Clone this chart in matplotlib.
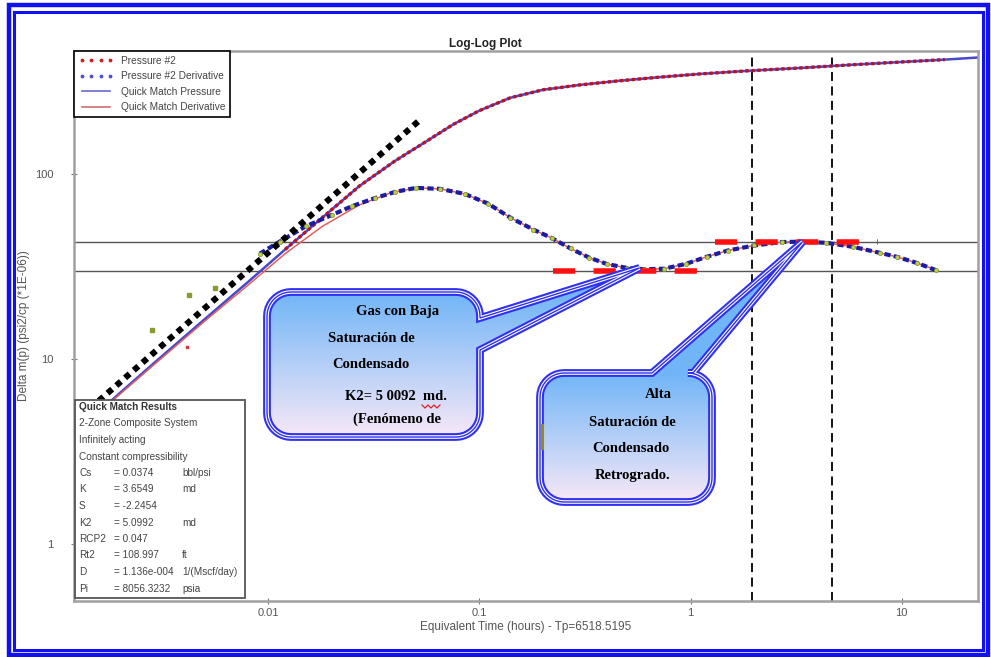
import numpy as np
import matplotlib.pyplot as plt
from matplotlib.lines import Line2D
from matplotlib.patches import Polygon, Rectangle
import matplotlib.patheffects as pe

plt.rcParams['font.family'] = ['Liberation Sans', 'DejaVu Sans']

# ---- data ----
pres_t = [0.0012, 0.002, 0.003, 0.005, 0.008, 0.012, 0.018, 0.027, 0.04, 0.055,
          0.075, 0.1, 0.14, 0.2, 0.3, 0.45, 0.7, 1.1, 1.8, 3.3, 6.0, 10, 16, 23]
pres_v = [3.9, 6.6, 9.9, 16.4, 26, 39, 58, 86, 118, 148,
          185, 220, 258, 285, 303, 318, 333, 347, 360, 374, 390, 403, 415, 426]

der_t = [0.0012, 0.002, 0.003, 0.005, 0.008, 0.012, 0.018, 0.027, 0.038, 0.05,
         0.065, 0.085, 0.11, 0.14, 0.18, 0.22, 0.27, 0.33, 0.4, 0.5, 0.6, 0.75,
         0.95, 1.2, 1.5, 2.0, 2.7, 3.4, 4.4, 5.9, 7.9, 9.5, 11.8, 14.8]
der_v = [3.9, 6.5, 9.7, 16, 25, 37, 52, 68, 79, 84,
         83, 78, 69, 58, 50, 45, 39.5, 35.3, 32.6, 31.0, 30.5, 30.7,
         32.6, 35.7, 38.5, 41.0, 42.8, 43.0, 42.4, 40.3, 37.4, 35.6, 33.0, 30.0]

dder_t = [0.0091, 0.0113, 0.015, 0.02, 0.025, 0.032, 0.04, 0.05,
          0.065, 0.085, 0.11, 0.14, 0.18, 0.22, 0.27, 0.33, 0.4, 0.5, 0.6, 0.75,
          0.95, 1.2, 1.5, 2.0, 2.7, 3.4, 4.4, 5.9, 7.9, 9.5, 11.8, 14.5]
dder_v = [37, 43, 52, 60, 67, 74, 80, 84,
          83, 78, 69, 58, 50, 45, 39.5, 35.3, 32.6, 31.0, 30.5, 30.7,
          32.6, 35.7, 38.5, 41.0, 42.8, 43.0, 42.4, 40.3, 37.4, 35.6, 33.0, 30.2]

early_der_t = [0.0028, 0.0042, 0.0056]
early_der_v = [14.3, 22.2, 24.2]
early_pres_t = [0.0041]
early_pres_v = [11.6]

unit_t = [0.0013, 0.052]        # unit-slope line (storage)
unit_v = [4.9, 195]
low_t = [0.222, 1.31]           # red dashed level, low
low_v = [30, 30]
high_t = [1.30, 7.7]            # red dashed level, high
high_v = [43, 43]
levels = [43, 30]
vlines = [1.95, 4.7]

results = [("Cs", "= 0.0374", "bbl/psi"), ("K", "= 3.6549", "md"),
           ("S", "= -2.2454", ""), ("K2", "= 5.0992", "md"),
           ("RCP2", "= 0.047", ""), ("Rt2", "= 108.997", "ft"),
           ("D", "= 1.136e-004", "1/(Mscf/day)"), ("Pi", "= 8056.3232", "psia")]

W, H = 991, 657
fig = plt.figure(figsize=(W / 100, H / 100), dpi=100)
ax = fig.add_axes([74 / W, 1 - 601 / H, (978 - 74) / W, (601 - 51) / H])
ax.set_xscale('log')
ax.set_yscale('log')

for lv in levels:
    ax.axhline(lv, color='#555555', lw=1, zorder=1)
for vl in vlines:
    ax.axvline(vl, color='black', lw=1.3, ls=(0, (5, 3)), zorder=1)

ax.plot(pres_t, pres_v, color='#4848c8', lw=1.8, zorder=2)
ax.plot(pres_t[5:-1], pres_v[5:-1], color='#c01020', lw=2.4, ls=(0, (1, 0.8)), zorder=3)
ax.plot(der_t, der_v, color='#e06060', lw=1.1, zorder=2)
ax.plot(dder_t, dder_v, color='#1c1ca0', lw=3, ls=(0, (1.5, 0.8)), zorder=3)
ax.plot(dder_t, dder_v, ls='none', marker='o', ms=3, color='#c0d040',
        mec='#78902a', mew=0.5, zorder=4)
ax.plot(early_der_t, early_der_v, ls='none', marker='s', ms=3.5, color='#8a9a30', zorder=4)
ax.plot(early_pres_t, early_pres_v, ls='none', marker='s', ms=2, color='#e03030', zorder=4)

ax.plot(unit_t, unit_v, color='black', lw=4.4, ls=(0, (1, 0.9)), zorder=4)
ax.plot(low_t, low_v, color='#ff1010', lw=4, ls=(0, (4, 3.3)), zorder=4)
ax.plot(high_t, high_v, color='#ff1010', lw=4, ls=(0, (4, 3.3)), zorder=4)

ax.set_xlim(0.0012, 23)
ax.set_ylim(0.49, 462)
ax.set_xticks([0.01, 0.1, 1, 10], labels=['0.01', '0.1', '1', '10'])
ax.set_yticks([1, 10, 100], labels=['1', '10', '100'])
ax.minorticks_off()
ax.tick_params(axis='both', colors='#777777', labelcolor='#555555', labelsize=8,
               length=4, direction='inout')
ax.tick_params(axis='y', pad=13)
ax.tick_params(axis='x', pad=3)
for sp in ax.spines.values():
    sp.set_color('#a0a0a0')
    sp.set_linewidth(1.8)

ax.set_xlabel('Equivalent Time (hours) - Tp=6518.5195', fontsize=8.5,
              color='#555555', labelpad=2)
ax.set_ylabel('Delta m(p) (psi2/cp (*1E-06))', fontsize=8.5, color='#555555', labelpad=3)
ax.set_title('Log-Log Plot', fontsize=8.5, fontweight='bold', pad=3, color='#222222', x=0.455)

handles = [Line2D([], [], ls='none', marker='.', ms=3.5, color='#d02020'),
           Line2D([], [], ls='none', marker='.', ms=3.5, color='#5050d0'),
           Line2D([], [], color='#6a6ad0', lw=1.2),
           Line2D([], [], color='#d07070', lw=1.2)]
leg = ax.legend(handles, ['Pressure #2', 'Pressure #2 Derivative',
                          'Quick Match Pressure', 'Quick Match Derivative'],
                loc='upper left', bbox_to_anchor=(0, 1), borderaxespad=0,
                fontsize=7.3, numpoints=4, handlelength=3.4, labelspacing=0.55,
                handletextpad=0.8, borderpad=0.45, fancybox=False, framealpha=1,
                edgecolor='black')
leg.get_frame().set_linewidth(1.2)
for t in leg.get_texts():
    t.set_color('#444444')
leg.set_zorder(10)

# ---- overlay in image pixel coordinates ----
ov = fig.add_axes([0, 0, 1, 1], zorder=5)
ov.patch.set_alpha(0)


def to_px(t, v):
    return ov.transData.inverted().transform(ax.transData.transform((t, v)))


ov.set_xlim(0, W)
ov.set_ylim(H, 0)
ov.axis('off')


def bubble(x0, y0, x1, y1, r, edge, a, b, tip):
    def arc(cx, cy, a0, a1):
        ang = np.radians(np.linspace(a0, a1, 10))
        return [(cx + r * np.cos(q), cy + r * np.sin(q)) for q in ang]
    pts = [(x0 + r, y0)]
    if edge == 'top':
        pts += [(a, y0), tuple(tip), (b, y0)]
    pts += arc(x1 - r, y0 + r, -90, 0)
    if edge == 'right':
        pts += [(x1, a), tuple(tip), (x1, b)]
    pts += arc(x1 - r, y1 - r, 0, 90)
    pts += arc(x0 + r, y1 - r, 90, 180)
    pts += arc(x0 + r, y0 + r, 180, 270)
    return pts


top_c = np.array([0.44, 0.71, 0.97])
bot_c = np.array([0.97, 0.91, 0.97])


def draw_bubble(x0, y0, x1, y1, edge, a, b, tip, lines):
    pts = bubble(x0, y0, x1, y1, 24, edge, a, b, tip)
    poly = Polygon(pts, closed=True, fc='none', ec='#3030f0', lw=1.0, zorder=3)
    poly.set_path_effects([pe.Stroke(linewidth=5.6, foreground='#3030f0'),
                           pe.Stroke(linewidth=2.6, foreground='white'),
                           pe.Normal()])
    ov.add_patch(poly)
    arr = np.array(pts)
    ya, yb = arr[:, 1].min(), arr[:, 1].max()
    xa, xb = arr[:, 0].min(), arr[:, 0].max()
    ys = np.linspace(ya, yb, 200)
    f = np.clip((ys - y0) / (y1 - y0), 0, 1)[:, None]
    grad = (top_c * (1 - f) + bot_c * f)[:, None, :]
    im = ov.imshow(grad, extent=(xa, xb, yb, ya), origin='upper', aspect='auto',
                   zorder=2, interpolation='bilinear')
    im.set_clip_path(poly)
    for txt, cx, cy in lines:
        ov.text(cx, cy, txt, ha='center', va='center', fontsize=10.5,
                fontweight='bold', family='Liberation Serif', zorder=4)


tip1 = to_px(0.573, 31)
tip2 = to_px(3.39, 42.9)
draw_bubble(267, 292, 480, 437, 'right', 318, 350, tip1,
            [("Gas con Baja", 398, 311), ("Saturación de", 371, 338),
             ("Condensado", 371, 365), ("K2= 5 0092  md.", 396, 396),
             ("(Fenómeno de", 397, 419)])
draw_bubble(540, 373, 712, 502, 'top', 652, 693, tip2,
            [("Alta", 658, 394), ("Saturación de", 632, 422),
             ("Condensado", 631, 448), ("Retrogrado.", 633, 475)])
ov.plot([422, 425, 428, 431, 434, 437, 440], [405, 408, 405, 408, 405, 408, 405],
        color='#e02020', lw=0.9, zorder=5)
ov.plot([542, 542], [425, 448], color='#9a8a10', lw=2.2, zorder=5)

# results box
ov.add_patch(Rectangle((75, 400), 170, 198, fc='white', ec='#555555', lw=1.3, zorder=6))
ov.text(79, 407, 'Quick Match Results', fontsize=7.2, fontweight='bold',
        va='center', color='#333333', zorder=7)
for i, txt in enumerate(['2-Zone Composite System', 'Infinitely acting',
                         'Constant compressibility']):
    ov.text(79, 423.5 + 16.6 * i, txt, fontsize=7.2, va='center', color='#444444', zorder=7)
for i, (k, v, u) in enumerate(results):
    y = 473 + 16.5 * i
    ov.text(79, y, k, fontsize=7.2, va='center', color='#444444', zorder=7)
    ov.text(114, y, v, fontsize=7.2, va='center', color='#444444', zorder=7)
    ov.text(182, y, u, fontsize=7.2, va='center', color='#444444', zorder=7)

# double blue page frame
ov.add_patch(Rectangle((9, 5), 979, 650, fc='none', ec='#1010f0', lw=3.2, zorder=8))
ov.add_patch(Rectangle((14, 11.5), 969, 638.5, fc='none', ec='#1010f0', lw=2.2, zorder=8))

fig.savefig('out.png', dpi=100)
